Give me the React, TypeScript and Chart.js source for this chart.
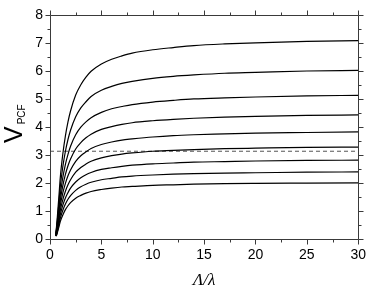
import React, { useEffect, useRef } from "react";
import { Chart, registerables } from "chart.js";

Chart.register(...registerables);

const xValues = [0.55, 0.65, 0.75, 0.875, 1, 1.25, 1.5, 1.75, 2, 2.5, 3, 3.5, 4, 5, 6, 7, 8, 10, 12, 14, 17, 20, 25, 30];
const curve1 = [0.15, 0.50, 0.96, 1.56, 2.20, 3.05, 3.69, 4.19, 4.58, 5.15, 5.52, 5.79, 6.00, 6.26, 6.43, 6.55, 6.65, 6.77, 6.85, 6.92, 6.98, 7.02, 7.07, 7.10];
const curve2 = [0.15, 0.42, 0.81, 1.33, 1.87, 2.59, 3.14, 3.56, 3.89, 4.37, 4.69, 4.91, 5.10, 5.32, 5.46, 5.57, 5.64, 5.75, 5.82, 5.87, 5.93, 5.96, 6.01, 6.03];
const curve3 = [0.14, 0.36, 0.69, 1.13, 1.59, 2.21, 2.67, 3.03, 3.32, 3.73, 4.00, 4.19, 4.34, 4.53, 4.66, 4.74, 4.81, 4.90, 4.96, 5.01, 5.05, 5.08, 5.12, 5.14];
const curve4 = [0.13, 0.31, 0.60, 0.98, 1.38, 1.91, 2.31, 2.62, 2.86, 3.22, 3.45, 3.62, 3.75, 3.92, 4.02, 4.10, 4.16, 4.23, 4.28, 4.32, 4.36, 4.39, 4.42, 4.44];
const curve5 = [0.13, 0.27, 0.52, 0.84, 1.19, 1.65, 1.99, 2.26, 2.47, 2.78, 2.98, 3.12, 3.24, 3.38, 3.47, 3.54, 3.58, 3.65, 3.70, 3.73, 3.76, 3.79, 3.81, 3.83];
const curve6 = [0.12, 0.23, 0.44, 0.72, 1.02, 1.41, 1.71, 1.94, 2.12, 2.39, 2.56, 2.68, 2.78, 2.90, 2.98, 3.04, 3.08, 3.14, 3.17, 3.20, 3.23, 3.25, 3.28, 3.29];
const curve7 = [0.12, 0.20, 0.38, 0.62, 0.87, 1.21, 1.47, 1.66, 1.82, 2.04, 2.19, 2.30, 2.38, 2.49, 2.55, 2.60, 2.64, 2.69, 2.72, 2.75, 2.77, 2.79, 2.81, 2.82];
const curve8 = [0.11, 0.17, 0.32, 0.53, 0.74, 1.03, 1.25, 1.42, 1.55, 1.74, 1.87, 1.96, 2.03, 2.12, 2.17, 2.22, 2.25, 2.29, 2.32, 2.34, 2.36, 2.37, 2.39, 2.40];
const curve9 = [0.10, 0.14, 0.27, 0.44, 0.62, 0.86, 1.05, 1.19, 1.30, 1.46, 1.56, 1.64, 1.70, 1.77, 1.82, 1.86, 1.88, 1.92, 1.94, 1.96, 1.98, 1.99, 2.00, 2.01];
const curves = [curve1, curve2, curve3, curve4, curve5, curve6, curve7, curve8, curve9];

const dashedX = [0, 30];
const dashedY = [3.14, 3.14];

const xMin = 0, xMax = 30, xStep = 5, xMinorStep = 2.5;
const yMin = 0, yMax = 8, yStep = 1, yMinorStep = 0.5;

const xTitle = "Λ/λ";
const yTitleMain = "V";
const yTitleSub = "PCF";

const framePlugin = {
  id: "frameTicks",
  afterDraw(chart: any) {
    const ctx = chart.ctx;
    const { left, right, top, bottom } = chart.chartArea;
    const xs = chart.scales.x;
    const ys = chart.scales.y;
    ctx.save();
    ctx.strokeStyle = "#3a3a3a";
    ctx.lineWidth = 1;
    ctx.beginPath();
    const L = Math.round(left) + 0.5, R = Math.round(right) + 0.5;
    const T = Math.round(top) + 0.5, B = Math.round(bottom) + 0.5;
    ctx.moveTo(L, T); ctx.lineTo(R, T); ctx.lineTo(R, B); ctx.lineTo(L, B); ctx.closePath();
    for (let v = xMin; v <= xMax + 1e-9; v += xMinorStep) {
      const px = Math.round(xs.getPixelForValue(v)) + 0.5;
      const len = Math.abs(v % xStep) < 1e-9 ? 5 : 3;
      ctx.moveTo(px, B); ctx.lineTo(px, B + len);
      ctx.moveTo(px, T); ctx.lineTo(px, T - len);
    }
    for (let v = yMin; v <= yMax + 1e-9; v += yMinorStep) {
      const py = Math.round(ys.getPixelForValue(v)) + 0.5;
      const len = Math.abs(v % yStep) < 1e-9 ? 5 : 3;
      ctx.moveTo(L, py); ctx.lineTo(L - len, py);
      ctx.moveTo(R, py); ctx.lineTo(R + len, py);
    }
    ctx.stroke();

    ctx.fillStyle = "#000";
    ctx.font = "italic 17px 'Liberation Serif', serif";
    ctx.textAlign = "center";
    ctx.textBaseline = "alphabetic";
    ctx.fillText(xTitle, (left + right) / 2, 285);

    ctx.translate(22, 143);
    ctx.rotate(-Math.PI / 2);
    ctx.textAlign = "left";
    ctx.font = "25px 'Liberation Sans', Arial, sans-serif";
    ctx.fillText(yTitleMain, 0, 0);
    const w = ctx.measureText(yTitleMain).width;
    ctx.font = "10px 'Liberation Sans', Arial, sans-serif";
    ctx.fillText(yTitleSub, w + 2, 3);
    ctx.restore();
  },
};

export default function App() {
  const ref = useRef<HTMLCanvasElement | null>(null);
  useEffect(() => {
    if (!ref.current) return;
    const datasets: any[] = curves.map((c) => ({
      data: xValues.map((x, i) => ({ x, y: c[i] })),
      borderColor: "#000",
      borderWidth: 1.2,
      pointRadius: 0,
      showLine: true,
      fill: false,
      cubicInterpolationMode: "monotone",
    }));
    datasets.push({
      data: dashedX.map((x, i) => ({ x, y: dashedY[i] })),
      borderColor: "#555",
      borderWidth: 1,
      borderDash: [4, 3],
      pointRadius: 0,
      showLine: true,
      fill: false,
    });
    const chart = new Chart(ref.current, {
      type: "scatter",
      data: { datasets },
      options: {
        animation: false,
        responsive: false,
        devicePixelRatio: 1,
        layout: { padding: { left: 0, top: 8, right: 8, bottom: 0 } },
        plugins: { legend: { display: false }, tooltip: { enabled: false } },
        scales: {
          x: {
            type: "linear",
            min: xMin,
            max: xMax,
            grid: { display: false, drawTicks: false },
            border: { display: false },
            ticks: {
              stepSize: xStep,
              padding: 8,
              color: "#000",
              font: { family: "'Liberation Sans', Arial, sans-serif", size: 14 },
              maxRotation: 0,
            },
            afterFit(scale: any) { scale.height = 50; },
          },
          y: {
            type: "linear",
            min: yMin,
            max: yMax,
            grid: { display: false, drawTicks: false },
            border: { display: false },
            ticks: {
              stepSize: yStep,
              padding: 7,
              color: "#000",
              font: { family: "'Liberation Sans', Arial, sans-serif", size: 14 },
            },
            afterFit(scale: any) { scale.width = 50; },
          },
        },
      },
      plugins: [framePlugin],
    });
    return () => chart.destroy();
  }, []);
  return (
    <div style={{ position: "fixed", left: 0, top: 0, width: 374, height: 289, background: "#fff" }}>
      <canvas ref={ref} width={374} height={289} />
    </div>
  );
}
